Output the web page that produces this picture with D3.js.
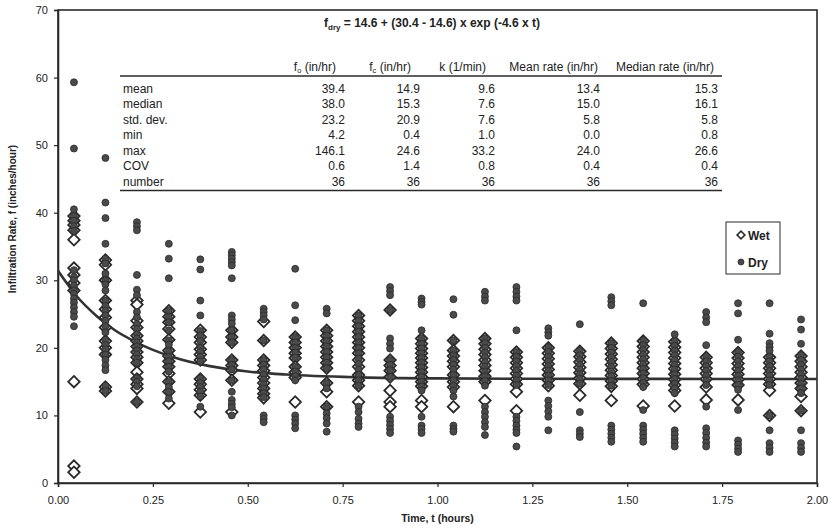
<!DOCTYPE html>
<html><head><meta charset="utf-8">
<script src="https://cdn.jsdelivr.net/npm/d3@7"></script>
<style>body{margin:0;background:#fff}svg{display:block}text{font-family:"Liberation Sans",Arial,sans-serif;fill:#222}</style>
</head><body><svg id="c" width="833" height="530"></svg>
<script>
// ---------- data ----------
const times = [0.042,0.125,0.208,0.292,0.375,0.458,0.542,0.625,0.708,0.792,0.875,0.958,1.042,1.125,1.208,1.292,1.375,1.458,1.542,1.625,1.708,1.792,1.875,1.958];
const dryValues = [
 [59.3,49.5,40.5,39.5,38.8,38,37.3,31.5,30.5,30,29.2,28.5,28,27.3,26.7,26,25.3,24.6,23.2],
 [48.1,41.5,39.2,35.4,33.2,32.5,31,30,29.4,28.5,27,26.2,25.5,24.8,24,23.2,22.3,21.2,20.4,19.8,19,18.2,17.4,16.7,14.4,13.6],
 [38.6,38,37.4,30.8,28.6,27.8,25.3,24.5,23.5,22.8,22,21.4,20.8,20.2,19.6,19,18.4,17.8,15.5,15,14.3,12],
 [35.4,33.2,30.3,25.5,24.5,23.8,22.6,21.1,20.5,19.5,18.7,18,17.2,16.5,15,14.2,13.5,12.5],
 [33.1,31.6,27,24.8,22.5,21.8,21,20,19.4,18.7,18,15.5,14.8,14.2,13.5,12.8,11.3],
 [34.2,33.7,33.2,32.7,32.2,30.3,24.8,24.2,23.6,22.6,21.6,20.8,18.2,17.5,16.8,15.2,13.5,12.3,11.7,11.2,10],
 [25.8,25.3,24.8,24.2,21.1,18.2,17.5,16.8,16,15.3,14.6,14,13.3,12.7,10,9.5,9],
 [31.7,26.3,24.1,21.6,20.8,20,19.3,18.6,17.2,16.5,15.8,15.2,10,9.4,8.8,8.1],
 [25.8,25.1,22.6,21.8,21,20.2,19.4,18.6,17.8,17,14.8,14,11.3,10.3,9.6,8.8,7.6],
 [24.8,24,23.2,22.4,21.6,20.8,20,19.2,18.4,17.6,16.8,16,15.2,14.4,11.3,10.5,9.5,8.8,8.3],
 [29,28.4,27.8,25.6,21.4,20.6,19.9,18.2,17.5,16.7,15.7,9.8,9.2,8.6,8,7.4],
 [27.3,26.8,26.4,22.6,21.4,20.6,19.9,19.2,18.5,17.8,17.1,16.4,15.7,15,14.3,13.7,9.8,8.5,8,7.4],
 [27.2,24.9,21.1,19.6,18.9,18.2,17.5,16.8,16,15.2,14.4,13.7,12.8,8.5,8,7.6],
 [28.3,27.6,27,21.4,20.7,20,19.3,18.6,17.9,17.2,16.5,15.8,15.1,14.4,11.3,10.5,9.8,9,8.3,7.1],
 [29,28.3,27.6,27,22.6,19.4,18.7,18,17.3,16.6,15.9,15.2,14.5,9.8,9.2,8.5,7.9,7.4,5.4],
 [22.9,22.3,21.8,20.1,19.4,18.7,18,17.3,16.6,15.9,15.2,14.5,12.2,11.4,10.6,9.8,7.8],
 [23.5,19.6,18.9,18.2,17.5,16.8,16.1,15.4,14.7,10.5,7.8,7.3,6.8],
 [27.5,26.9,26.3,20.7,20,19.3,18.6,17.9,17.2,16.5,15.8,15.1,14.4,8.5,7.9,7.3,6.7,6.1],
 [26.6,21.1,20.4,19.7,19,18.3,17.6,16.9,16.2,15.5,14.8,14.2,10.8,8.5,7.9,7.3,6.7,6.1],
 [22,21,20.3,19.6,18.9,18.2,17.5,16.8,16.1,15.4,14.7,14,13.3,7.8,7.2,6.6,6,5.4],
 [25.3,24.5,23.8,20.4,18.7,18,17.3,16.6,15.9,15.2,14.5,11.3,8.1,7.4,6.7,6,5.4],
 [26.6,25.1,21.2,19.4,18.7,18,17.3,16.6,15.9,15.2,14.5,13.8,10.8,6.3,5.7,5.1,4.6],
 [26.6,22.1,20.7,20.1,19.6,18.7,18,17.3,16.6,15.9,15.2,14.5,10,7.8,5.9,5.2,4.6],
 [24.2,22.7,20.6,18.9,18.2,17.5,16.8,16.1,15.4,14.7,14,13.3,10.7,7.8,5.9,5.2,4.6]
];
const wetValues = [
 [39.5,38.8,38.2,37.4,36,31.8,30.8,29.6,28.5,15,2.5,1.6],
 [33,32.3,30,27,25.7,24.5,23,21,20,19,14.2,13.6],
 [27,26.4,24,23,21.8,21,20.2,19.4,18.6,17.8,16.4,15.4,14.6,14,12],
 [25.5,24.6,23.8,22.8,21.2,19.6,18.8,18,17.2,16.2,15,13.5,11.8],
 [22.6,21.6,20.8,19.8,19,18.2,15.4,14.6,13.8,13,10.5],
 [22.6,21.6,20.8,18.2,17.4,16.7,15.2,10.5],
 [23.9,21.1,18.2,17.4,16.6,15.6,14.8,14,13.2,12.6],
 [21.6,20.8,20,19.2,18.5,17.2,16.4,15.6,12],
 [22.6,21.8,21,20.2,19.4,18.6,17.8,17,14.8,13.5,11.3],
 [24.8,24,23.2,22.4,21.6,20.8,20,19.2,18.2,17.2,16,15.2,14.4,12],
 [25.6,18.2,17.4,16.6,15.7,13.7,12,11.3],
 [21.4,20.6,19.9,19.2,18.5,17.8,17.1,16.4,15.7,15,14.3,12.2,11.3],
 [21.1,19.6,18.8,18,17.2,16,15,14.2,11.3],
 [21.4,20.6,19.8,19,18.2,17.4,16.6,15.8,15,12.2],
 [19.4,18.6,17.8,17,16.2,15.4,14.6,13.5,10.7],
 [20,19.2,18.4,17.6,16.8,16,15.2,14.4],
 [19.5,18.7,17.9,17.1,16.3,15.5,14.7,13],
 [20.7,19.9,19.1,18.3,17.5,16.7,15.9,15.1,14.3,12.2],
 [21,20.2,19.4,18.6,17.8,17,16.2,15.4,14.6,11.4],
 [20.9,20.1,19.3,18.5,17.7,16.9,16.1,15.3,14.5,13.7,11.4],
 [18.6,17.8,17,16.2,15.4,14.2,12.3],
 [19.3,18.5,17.7,16.9,16.1,15.3,14.5,12.3],
 [18.6,17.8,17,16.2,15.4,14.6,13.7,10],
 [18.8,18,17.2,16.4,15.6,14.8,14,12.8,10.7]
];
// fitted curve
const curveT = [0,0.05,0.1,0.15,0.2,0.25,0.3,0.4,0.5,0.6,0.8,1.0,1.25,1.5,1.75,2.0];
const curveF = [31.4,27.6,24.8,22.6,21.0,19.7,18.7,17.3,16.5,16.05,15.63,15.48,15.42,15.41,15.4,15.4];

const xTicks = [0,0.25,0.5,0.75,1.0,1.25,1.5,1.75,2.0];
const yTicks = [0,10,20,30,40,50,60,70];
const tableHeaders = ["(in/hr)","(in/hr)","k (1/min)","Mean rate (in/hr)","Median rate (in/hr)"];
const tableHeaderPrefix = [["f","o"],["f","c"],null,null,null];
const tableRowLabels = ["mean","median","std. dev.","min","max","COV","number"];
const tableValues = [
 ["39.4","14.9","9.6","13.4","15.3"],
 ["38.0","15.3","7.6","15.0","16.1"],
 ["23.2","20.9","7.6","5.8","5.8"],
 ["4.2","0.4","1.0","0.0","0.8"],
 ["146.1","24.6","33.2","24.0","26.6"],
 ["0.6","1.4","0.8","0.4","0.4"],
 ["36","36","36","36","36"]
];
const legendLabels = ["Wet","Dry"];

// ---------- chart ----------
const svg = d3.select("#c");
const L=58, R=817, T=10, B=483;
const x = d3.scaleLinear().domain([0,2]).range([L,R]);
const y = d3.scaleLinear().domain([0,70]).range([B,T]);
const ink="#2a2a2a";

// frame
svg.append("rect").attr("x",L).attr("y",T).attr("width",R-L).attr("height",B-T)
  .attr("fill","none").attr("stroke",ink).attr("stroke-width",1.6);

// axes
const ya = svg.append("g").attr("transform",`translate(${L},0)`)
  .call(d3.axisLeft(y).tickValues(yTicks).tickFormat(d3.format("d")).tickSize(4).tickPadding(6));
const xa = svg.append("g").attr("transform",`translate(0,${B})`)
  .call(d3.axisBottom(x).tickValues(xTicks).tickFormat(d3.format(".2f")).tickSize(4).tickPadding(9));
[ya,xa].forEach(g=>{
  g.select(".domain").attr("stroke",ink).attr("stroke-width",1.6);
  g.selectAll(".tick line").attr("stroke",ink).attr("stroke-width",1.2);
  g.selectAll(".tick text").attr("fill","#222").style("font-family","Liberation Sans, Arial").style("font-size","11px");
});

// axis titles
svg.append("text").attr("transform",`translate(16,219) rotate(-90)`).attr("text-anchor","middle")
  .style("font-size","10px").style("font-weight","bold").text("Infiltration Rate, f (inches/hour)");
svg.append("text").attr("x",(L+R)/2).attr("y",522).attr("text-anchor","middle")
  .style("font-size","10.5px").style("font-weight","bold").text("Time, t (hours)");

// title formula
const tt = svg.append("text").attr("x",432).attr("y",27).attr("text-anchor","middle")
  .style("font-size","12px").style("font-weight","bold");
tt.append("tspan").text("f");
tt.append("tspan").attr("dy",3).style("font-size","8px").text("dry");
tt.append("tspan").attr("dy",-3).text(" = 14.6 + (30.4 - 14.6) x exp (-4.6 x t)");

// table
const tbl = svg.append("g");
const colRight = [345,420,495,600,718];
const headRight = [336,411,486,598,714];
const rowY0 = 92.5, rowH = 15.5;
tbl.append("line").attr("x1",120).attr("x2",722).attr("y1",76).attr("y2",76).attr("stroke",ink).attr("stroke-width",1.3);
tbl.append("line").attr("x1",120).attr("x2",722).attr("y1",rowY0+rowH*6+5).attr("y2",rowY0+rowH*6+5).attr("stroke",ink).attr("stroke-width",1.3);
tableHeaders.forEach((h,i)=>{
  const t = tbl.append("text").attr("x",headRight[i]).attr("y",71).attr("text-anchor","end").style("font-size","12px");
  const p = tableHeaderPrefix[i];
  if(p){ t.append("tspan").text(p[0]); t.append("tspan").attr("dy",2).style("font-size","7.5px").text(p[1]); t.append("tspan").attr("dy",-2).text(" "+h); }
  else t.text(h);
});
tableRowLabels.forEach((r,j)=>{
  tbl.append("text").attr("x",123).attr("y",rowY0+rowH*j).style("font-size","12px").text(r);
  tableValues[j].forEach((v,i)=>{
    tbl.append("text").attr("x",colRight[i]).attr("y",rowY0+rowH*j).attr("text-anchor","end").style("font-size","12px").text(v);
  });
});

// curve
svg.append("path").datum(curveT.map((t,i)=>[t,curveF[i]]))
  .attr("d",d3.line().x(d=>x(d[0])).y(d=>y(d[1])).curve(d3.curveMonotoneX))
  .attr("fill","none").attr("stroke","#333").attr("stroke-width",2.6);

// points
const diamond = d3.symbol().type(d3.symbolSquare).size(66);
const wetPts = [], dryPts=[];
times.forEach((t,i)=>{ wetValues[i].forEach(v=>wetPts.push([t,v])); dryValues[i].forEach(v=>dryPts.push([t,v])); });
svg.append("g").selectAll("path").data(wetPts).join("path")
  .attr("d",diamond).attr("transform",d=>`translate(${x(d[0])},${y(d[1])}) rotate(45)`)
  .attr("fill","#fff").attr("stroke","#2a2a2a").attr("stroke-width",1.8);
svg.append("g").selectAll("circle").data(dryPts).join("circle")
  .attr("cx",d=>x(d[0])).attr("cy",d=>y(d[1])).attr("r",3.5)
  .attr("fill","#4a4a4a").attr("stroke","#2a2a2a").attr("stroke-width",0.8);

// legend
const lg = svg.append("g");
lg.append("rect").attr("x",726).attr("y",222).attr("width",54).attr("height",52).attr("fill","#fff").attr("stroke",ink).attr("stroke-width",1);
lg.append("path").attr("d",d3.symbol().type(d3.symbolSquare).size(30)).attr("transform","translate(741,235) rotate(45)")
  .attr("fill","#fff").attr("stroke","#2a2a2a").attr("stroke-width",1.6);
lg.append("circle").attr("cx",741).attr("cy",262).attr("r",3).attr("fill","#4a4a4a").attr("stroke","#2a2a2a").attr("stroke-width",0.8);
legendLabels.forEach((l,i)=>{
  lg.append("text").attr("x",748).attr("y",239.5+i*27).style("font-size","12px").style("font-weight","bold").text(l);
});
</script></body></html>
